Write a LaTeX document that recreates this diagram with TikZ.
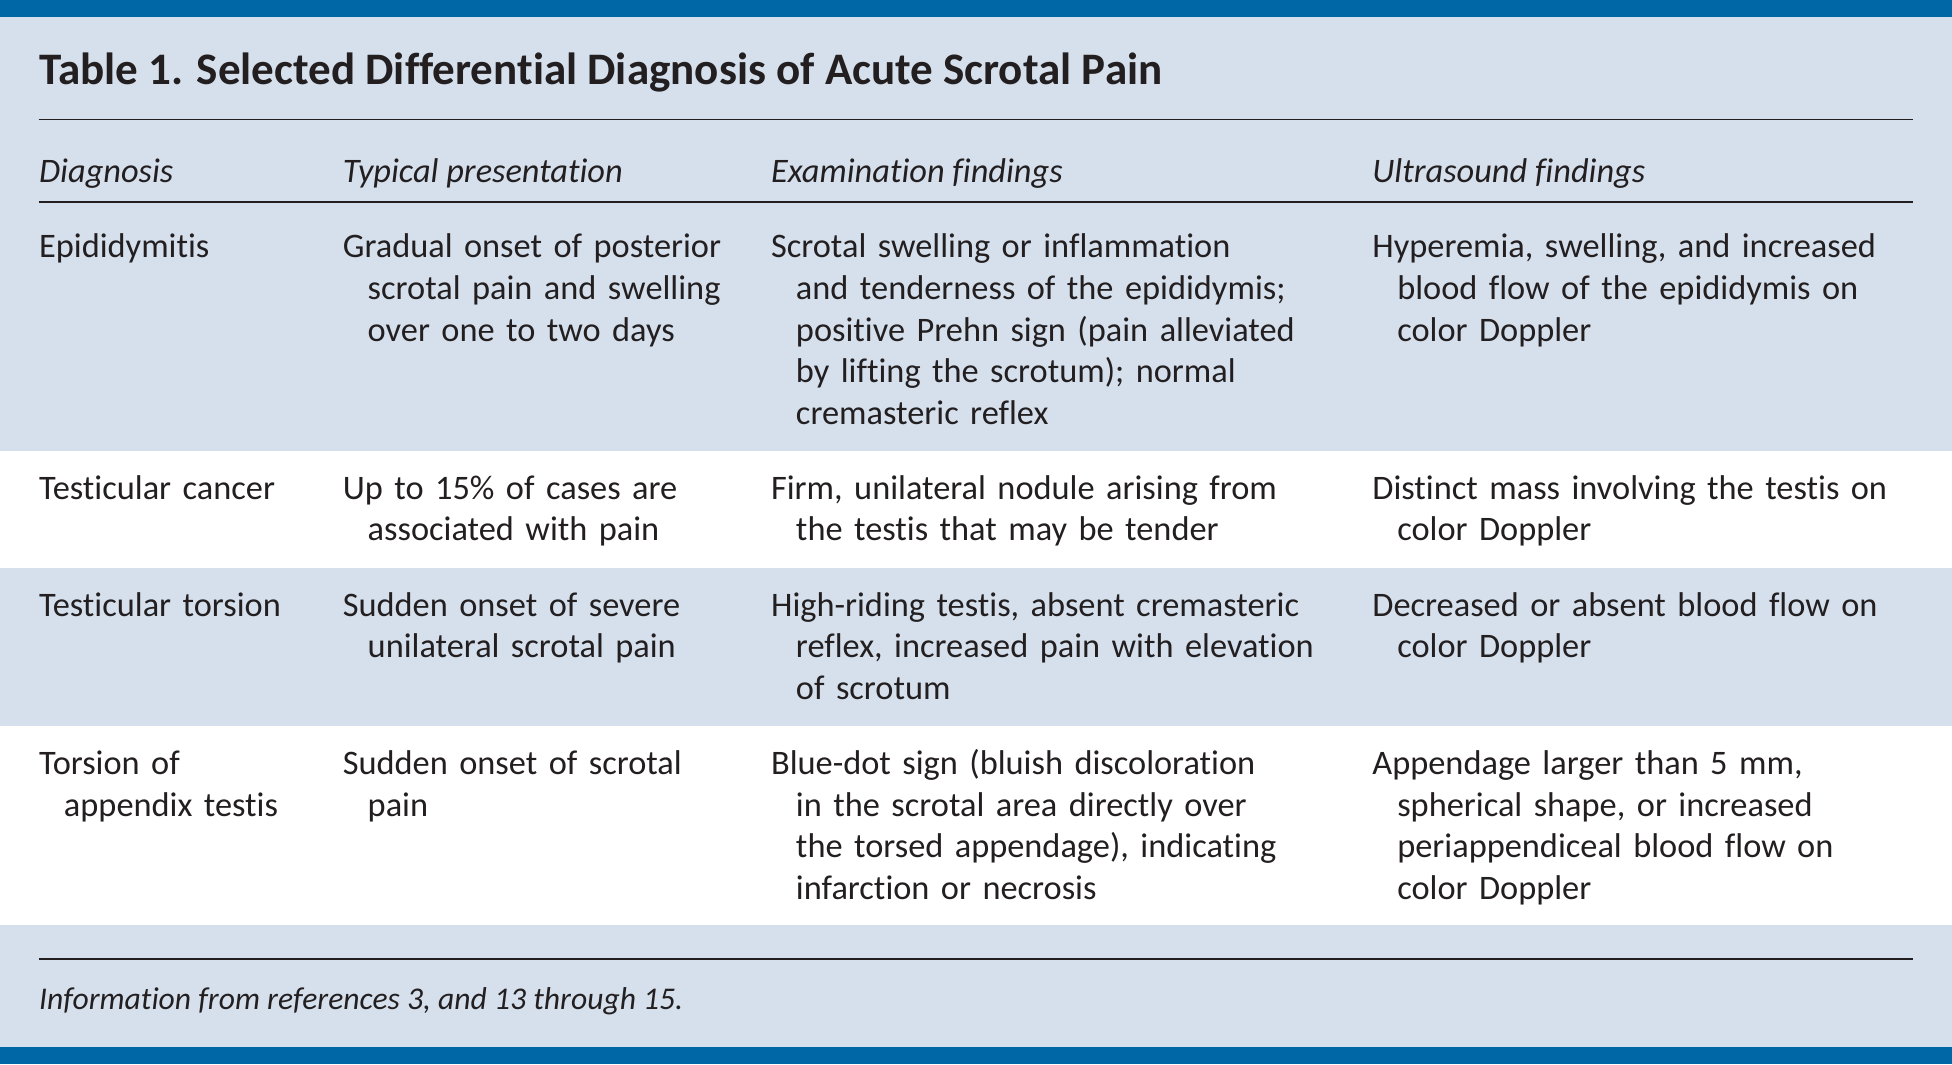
\documentclass[tikz,border=0pt]{standalone}
\usepackage{fontspec}
\setmainfont{Carlito}[Ligatures=NoCommon]
\usetikzlibrary{positioning}
\definecolor{bandblue}{RGB}{0,103,167}
\definecolor{rowblue}{RGB}{213,224,236}
\definecolor{inkblack}{RGB}{35,31,32}
\newcommand{\bodyfont}{\fontsize{13.8}{16.75}\selectfont}
\newcommand{\nl}{\newline}
\tikzset{cell/.style = {anchor=base west, inner sep=0pt, text width=250pt, align=left,
                        font=\bodyfont, text=inkblack,
                        execute at begin node={\hangindent=10pt\hangafter=1\relax}},
         head/.style = {anchor=base west, inner sep=0pt, font=\bodyfont\itshape, text=inkblack},
         rule/.style = {line width=0.75pt, draw=inkblack}}

\begin{document}
\begin{tikzpicture}[x=0.5pt, y=-0.5pt]
      \useasboundingbox (0, 0) rectangle (1568, 855);
      \fill [rowblue] (0, 0) rectangle (1568, 855);
      \fill [bandblue] (0, 0) rectangle (1568, 14);
      \fill [bandblue] (0, 841) rectangle (1568, 855);
      \fill [white] (0, 362) rectangle (1568, 456);
      \fill [white] (0, 583) rectangle (1568, 743);

      \node [anchor=base west, inner sep=0pt, text=inkblack,
             font=\fontsize{18.1}{21}\selectfont\bfseries] (title) at (31, 68)
            {Table 1. Selected Differential Diagnosis of Acute Scrotal Pain};
      \draw [rule] (31, 96) -- (1537, 96);

      \node [head] (h-dx) at (31, 147) {Diagnosis};
      \node [head] (h-pres) at (275, 147) {Typical presentation};
      \node [head] (h-exam) at (619, 147) {Examination findings};
      \node [head] (h-us) at (1102, 147) {Ultrasound findings};
      \draw [rule] (31, 162) -- (1537, 162);

      % epididymitis
      \node [cell] (epi-dx) at (31, 207) {Epididymitis};
      \node [cell] (epi-pres) at (275, 207) {Gradual onset of posterior\nl scrotal pain and swelling\nl over one to two days};
      \node [cell] (epi-exam) at (619, 207) {Scrotal swelling or inflammation\nl and tenderness of the epididymis;\nl positive Prehn sign (pain alleviated\nl by lifting the scrotum); normal\nl cremasteric reflex};
      \node [cell] (epi-us) at (1102, 207) {Hyperemia, swelling, and increased\nl blood flow of the epididymis on\nl color Doppler};

      % cancer
      \node [cell] (ca-dx) at (31, 401) {Testicular cancer};
      \node [cell] (ca-pres) at (275, 401) {Up to 15\% of cases are\nl associated with pain};
      \node [cell] (ca-exam) at (619, 401) {Firm, unilateral nodule arising from\nl the testis that may be tender};
      \node [cell] (ca-us) at (1102, 401) {Distinct mass involving the testis on\nl color Doppler};

      % torsion
      \node [cell] (tor-dx) at (31, 495) {Testicular torsion};
      \node [cell] (tor-pres) at (275, 495) {Sudden onset of severe\nl unilateral scrotal pain};
      \node [cell] (tor-exam) at (619, 495) {High-riding testis, absent cremasteric\nl reflex, increased pain with elevation\nl of scrotum};
      \node [cell] (tor-us) at (1102, 495) {Decreased or absent blood flow on\nl color Doppler};

      % appendix testis
      \node [cell] (app-dx) at (31, 622) {Torsion of\nl appendix testis};
      \node [cell] (app-pres) at (275, 622) {Sudden onset of scrotal\nl pain};
      \node [cell] (app-exam) at (619, 622) {Blue-dot sign (bluish discoloration\nl in the scrotal area directly over\nl the torsed appendage), indicating\nl infarction or necrosis};
      \node [cell] (app-us) at (1102, 622) {Appendage larger than 5 mm,\nl spherical shape, or increased\nl periappendiceal blood flow on\nl color Doppler};

      \draw [rule] (31, 770) -- (1537, 770);
      \node [head, font=\fontsize{12.7}{15}\selectfont\itshape] (note) at (31, 811)
            {Information from references 3, and 13 through 15.};
\end{tikzpicture}
\end{document}
